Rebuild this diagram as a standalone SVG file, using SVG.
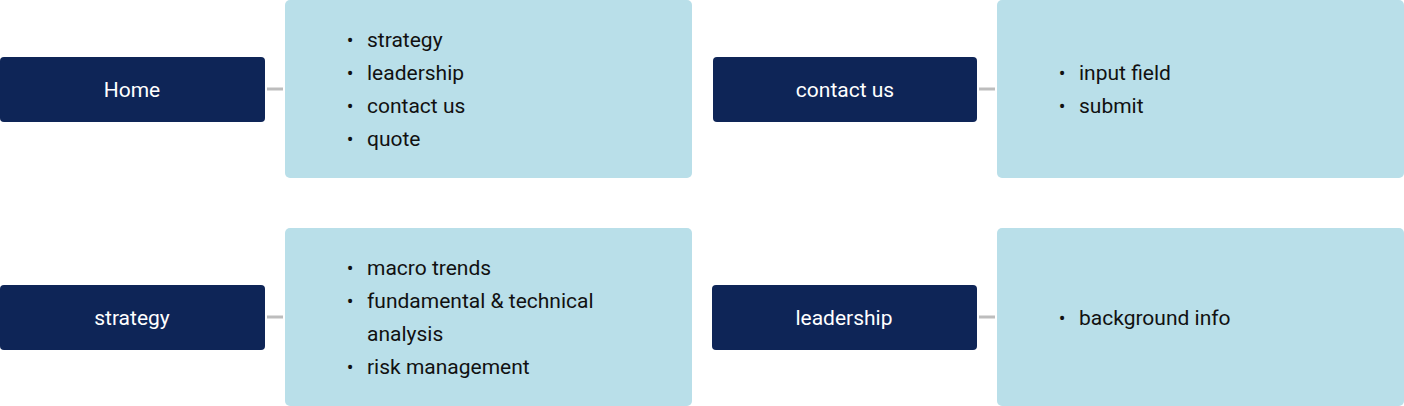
<svg xmlns="http://www.w3.org/2000/svg" width="1404" height="406" viewBox="0 0 1404 406">
<style>
.dark{fill:#0E2557}
.light{fill:#B9DFE9}
.lbl{font-family:Roboto,"Liberation Sans",sans-serif;font-size:21px;fill:#FFFFFF;text-anchor:middle}
.item{font-family:Roboto,"Liberation Sans",sans-serif;font-size:21px;fill:#111111}
.bul{font-family:Roboto,"Liberation Sans",sans-serif;font-size:20px;fill:#111111;text-anchor:middle}
.conn{stroke:#BDBDBD;stroke-width:3;fill:none}
</style>
<rect width="1404" height="406" fill="#FFFFFF"/>
<g id="connectors">
<line class="conn" x1="267" y1="89" x2="283" y2="89"/>
<line class="conn" x1="267" y1="317" x2="283" y2="317"/>
<line class="conn" x1="979" y1="89" x2="995" y2="89"/>
<line class="conn" x1="979" y1="317" x2="995" y2="317"/>
</g>
<g id="home">
<rect class="dark" x="0" y="57" width="265" height="65" rx="4"/>
<text class="lbl" x="132" y="97">Home</text>
</g>
<g id="home-list">
<rect class="light" x="285" y="0" width="407" height="178" rx="5"/>
<text class="bul" x="350" y="47">•</text><text class="item" x="367" y="47">strategy</text>
<text class="bul" x="350" y="80">•</text><text class="item" x="367" y="80">leadership</text>
<text class="bul" x="350" y="113">•</text><text class="item" x="367" y="113">contact us</text>
<text class="bul" x="350" y="146">•</text><text class="item" x="367" y="146">quote</text>
</g>
<g id="contact">
<rect class="dark" x="713" y="57" width="264" height="65" rx="4"/>
<text class="lbl" x="845" y="97">contact us</text>
</g>
<g id="contact-list">
<rect class="light" x="997" y="0" width="407" height="178" rx="5"/>
<text class="bul" x="1062" y="80">•</text><text class="item" x="1079" y="80">input field</text>
<text class="bul" x="1062" y="113">•</text><text class="item" x="1079" y="113">submit</text>
</g>
<g id="strategy">
<rect class="dark" x="0" y="285" width="265" height="65" rx="4"/>
<text class="lbl" x="132" y="325">strategy</text>
</g>
<g id="strategy-list">
<rect class="light" x="285" y="228" width="407" height="178" rx="5"/>
<text class="bul" x="350" y="275">•</text><text class="item" x="367" y="275">macro trends</text>
<text class="bul" x="350" y="308">•</text><text class="item" x="367" y="308">fundamental &amp; technical</text>
<text class="item" x="367" y="341">analysis</text>
<text class="bul" x="350" y="374">•</text><text class="item" x="367" y="374">risk management</text>
</g>
<g id="leadership">
<rect class="dark" x="712" y="285" width="265" height="65" rx="4"/>
<text class="lbl" x="844" y="325">leadership</text>
</g>
<g id="leadership-list">
<rect class="light" x="997" y="228" width="407" height="178" rx="5"/>
<text class="bul" x="1062" y="325">•</text><text class="item" x="1079" y="325">background info</text>
</g>
</svg>
